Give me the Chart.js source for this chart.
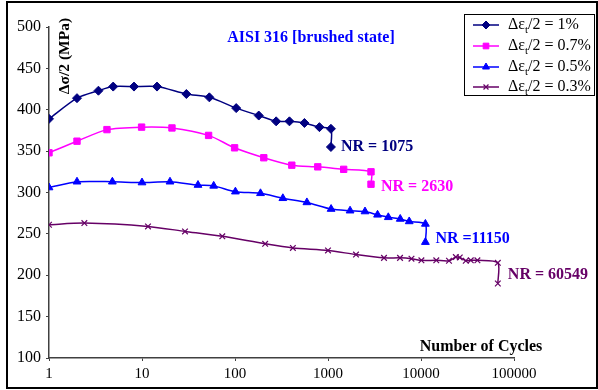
<!DOCTYPE html>
<html>
<head>
<meta charset="utf-8">
<script src="https://cdn.jsdelivr.net/npm/chart.js@4/dist/chart.umd.min.js"></script>
<style>
  body { margin: 0; background: #fff; }
  canvas { display: block; }
</style>
</head>
<body>
<canvas id="fatigueChart" width="598" height="390"></canvas>
<script>
// cycles (x) and stress amplitude (y) for each strain amplitude
const cycles1 = [1, 2, 3.4, 4.9, 8.2, 14.5, 30, 53, 103, 180, 277, 385, 558, 809, 1075, 1075];
const stress1 = [389, 414, 423, 428, 428, 428, 419, 415, 402, 393, 386, 386, 384, 379, 377, 355];

const cycles07 = [1, 2, 4.2, 9.9, 21, 52, 99, 204, 408, 776, 1474, 2900, 2900];
const stress07 = [348, 362, 376, 379, 378, 369, 354, 342, 333, 331, 328, 325, 310];

const cycles05 = [1, 2, 4.8, 10, 20, 40, 59, 101, 188, 327, 593, 1080, 1727, 2500, 3410, 4450, 5980, 7470, 11150, 11150];
const stress05 = [306, 313, 313, 312, 313, 309, 308, 301, 299, 293, 288, 280, 278, 277, 273, 270, 268, 265, 262, 240];

const cycles03 = [1, 2.4, 11.6, 29, 73, 211, 419, 1000, 2000, 4000, 5950, 7900, 10100, 14600, 20000, 23700, 26100, 30300, 34300, 40400, 67000, 67000];
const stress03 = [261, 263, 259, 253, 247, 238, 233, 230, 225, 221, 221, 220, 218, 218, 217.5, 222, 221.5, 217.5, 218, 218, 215, 190];

const seriesNames = ['1%', '0.7%', '0.5%', '0.3%'];
const xTicks = [1, 10, 100, 1000, 10000, 100000];

// failure annotations: text, cycles, stress
const nrLabels = ['NR = 1075', 'NR = 2630', 'NR =11150', 'NR = 60549'];
const nrCycles = [1075, 2900, 11150, 67000];
const nrStress = [355, 307, 244, 201];

const colors = ['#000080', '#FF00FF', '#0000FF', '#660066'];
const markers = ['rectRot', 'rect', 'triangle', 'crossRot'];
const markerSize = [4.5, 4.5, 4.5, 4];
const serif = '"Liberation Serif", "Times New Roman", serif';

function pairs(xs, ys) {
    return xs.map((x, i) => ({ x: x, y: ys[i] }));
}

const allData = [
    pairs(cycles1, stress1),
    pairs(cycles07, stress07),
    pairs(cycles05, stress05),
    pairs(cycles03, stress03)
];

const datasets = allData.map((d, i) => ({
    label: seriesNames[i],
    data: d,
    borderColor: colors[i],
    backgroundColor: colors[i],
    borderWidth: 1.5,
    pointStyle: markers[i],
    pointRadius: markerSize[i],
    pointBorderWidth: i === 3 ? 1.2 : 1,
    tension: 0.25
}));

// frame, titles, legend and NR labels
const decorations = {
    id: 'decorations',
    afterDraw(chart) {
        const ctx = chart.ctx;
        const xs = chart.scales.x, ys = chart.scales.y;
        ctx.save();

        // outer frame
        ctx.strokeStyle = '#000';
        ctx.lineWidth = 2;
        ctx.strokeRect(7, 2, 590, 386);

        // title
        ctx.fillStyle = '#0000FF';
        ctx.font = 'bold 16px ' + serif;
        ctx.textAlign = 'center';
        ctx.textBaseline = 'middle';
        ctx.fillText('AISI 316 [brushed state]', 311, 38);

        // y title
        ctx.fillStyle = '#000';
        ctx.font = 'bold 15.5px ' + serif;
        ctx.save();
        ctx.translate(65, 56);
        ctx.rotate(-Math.PI / 2);
        ctx.fillText('Δσ/2 (MPa)', 0, 0);
        ctx.restore();

        // x title
        ctx.font = 'bold 16px ' + serif;
        ctx.fillText('Number of Cycles', 481, 347);

        // NR labels
        ctx.font = 'bold 16px ' + serif;
        ctx.textAlign = 'left';
        nrLabels.forEach((t, i) => {
            ctx.fillStyle = colors[i];
            ctx.fillText(t, xs.getPixelForValue(nrCycles[i]) + 10, ys.getPixelForValue(nrStress[i]));
        });

        // legend
        ctx.fillStyle = '#fff';
        ctx.fillRect(464.5, 14.5, 130, 81);
        ctx.strokeStyle = '#000';
        ctx.lineWidth = 1;
        ctx.strokeRect(464.5, 14.5, 130, 81);
        const rowY = [25, 46, 67, 87];
        seriesNames.forEach((name, i) => {
            const y = rowY[i];
            ctx.strokeStyle = colors[i];
            ctx.lineWidth = 1.5;
            ctx.beginPath();
            ctx.moveTo(473, y);
            ctx.lineTo(499, y);
            ctx.stroke();
            ctx.fillStyle = colors[i];
            ctx.lineWidth = i === 3 ? 1.2 : 1;
            Chart.helpers.drawPoint(ctx, {
                pointStyle: markers[i],
                radius: markerSize[i] - 0.5,
                borderWidth: 1
            }, 486, y);

            ctx.fillStyle = '#000';
            ctx.textAlign = 'left';
            ctx.font = '16px ' + serif;
            let x = 508;
            ctx.fillText('Δε', x, y);
            x += ctx.measureText('Δε').width;
            ctx.font = '11px ' + serif;
            ctx.fillText('t', x, y + 5);
            x += ctx.measureText('t').width;
            ctx.font = '16px ' + serif;
            ctx.fillText('/2 = ' + name, x, y);
        });
        ctx.restore();
    }
};

const chart = new Chart(document.getElementById('fatigueChart'), {
    type: 'line',
    data: { datasets: datasets },
    options: {
        responsive: false,
        animation: false,
        layout: { padding: { top: 27, right: 84, left: 0, bottom: 0 } },
        plugins: {
            legend: { display: false },
            title: { display: false },
            tooltip: { enabled: false }
        },
        scales: {
            x: {
                type: 'logarithmic',
                min: 1,
                max: 100000,
                afterBuildTicks: (axis) => {
                    axis.ticks = xTicks.map(v => ({ value: v }));
                },
                afterFit: (scale) => { scale.height = 32; },
                ticks: {
                    callback: (v) => String(v),
                    color: '#000',
                    font: { family: serif, size: 15 },
                    maxRotation: 0,
                    padding: 4
                },
                grid: { drawOnChartArea: false, tickLength: 3, color: '#404040' },
                border: { color: '#404040', width: 1.5 }
            },
            y: {
                min: 100,
                max: 500,
                afterFit: (scale) => { scale.width = 49; },
                ticks: {
                    stepSize: 50,
                    color: '#000',
                    font: { family: serif, size: 16 },
                    padding: 5
                },
                grid: { drawOnChartArea: false, tickLength: 3, color: '#404040' },
                border: { color: '#404040', width: 1.5 }
            }
        }
    },
    plugins: [decorations]
});
</script>
</body>
</html>
